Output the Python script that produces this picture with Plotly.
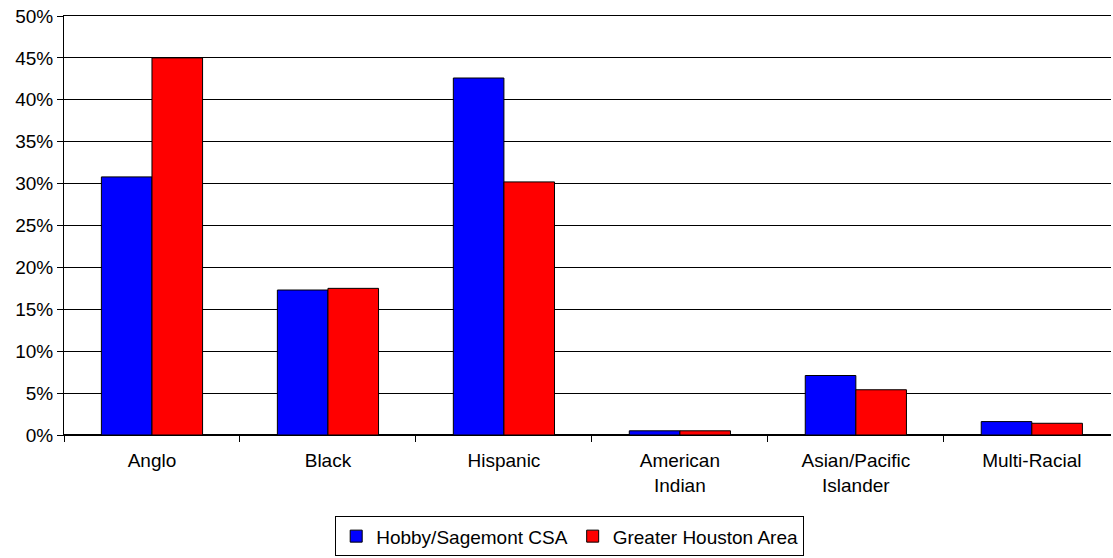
import plotly.graph_objects as go

categories = ["Anglo", "Black", "Hispanic", "American<br>Indian", "Asian/Pacific<br>Islander", "Multi-Racial"]
hobby = [0.308, 0.173, 0.426, 0.005, 0.071, 0.016]
houston = [0.450, 0.175, 0.302, 0.005, 0.054, 0.014]
y_ticks = [0, 0.05, 0.10, 0.15, 0.20, 0.25, 0.30, 0.35, 0.40, 0.45, 0.50]

fig = go.Figure()
fig.add_trace(go.Bar(x=categories, y=hobby, name="Hobby/Sagemont CSA",
                     marker=dict(color="#0000ff", line=dict(color="black", width=1))))
fig.add_trace(go.Bar(x=categories, y=houston, name="Greater Houston Area",
                     marker=dict(color="#ff0000", line=dict(color="black", width=1))))

fig.update_layout(
    width=1113, height=558,
    margin=dict(l=64, r=2, t=16, b=120),
    paper_bgcolor="white", plot_bgcolor="white",
    font=dict(family="Liberation Sans, Arial", size=19, color="black"),
    barmode="group", bargap=0.425, bargroupgap=0,
    showlegend=True,
    legend=dict(orientation="h", x=0.483, xanchor="center", y=-0.194, yanchor="top",
                bordercolor="black", borderwidth=1, font=dict(size=19),
                itemwidth=30),
    xaxis=dict(range=[-0.5, 5.45], showline=True, linecolor="black", linewidth=1,
               mirror=True, ticklabelstandoff=8,
               ticks="outside", tickson="boundaries", ticklen=6, tickcolor="black"),
    yaxis=dict(range=[0, 0.5], tickvals=y_ticks, tickformat=".0%",
               showgrid=True, gridcolor="#000000", gridwidth=1,
               showline=True, linecolor="black", linewidth=1,
               ticks="outside", ticklen=6, tickcolor="black",
               zeroline=True, zerolinecolor="black"),
)

# drop the default 8px body margin so the figure sits at the page corner
fig.write_html("out.html", config={"displayModeBar": False},
               post_script="document.body.style.margin='0';")
